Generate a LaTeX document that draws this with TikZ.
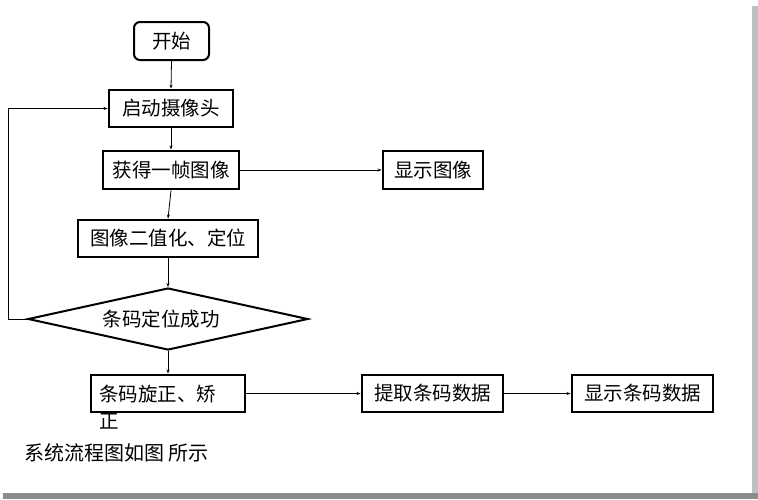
\documentclass[tikz,border=0pt]{standalone}
\usepackage{fontspec}
\setmainfont{Noto Sans CJK SC}
\usetikzlibrary{shapes.geometric,arrows.meta}
\begin{document}
\begin{tikzpicture}[x=1pt,y=-1pt,
  font=\fontsize{19.5}{27}\selectfont,
  box/.style={draw, line width=2.9pt, inner sep=0pt},
  startbox/.style={draw, line width=2pt, rounded corners=6pt, inner sep=0pt},
  decision/.style={draw, diamond, aspect=4.5, line width=2pt, inner sep=0pt, minimum width=280pt, minimum height=62pt},
  conn/.style={line width=0.8pt, -{Stealth[length=4pt,width=3pt]}}]
\useasboundingbox (0,0) rectangle (758,499);
\fill[white] (0,0) rectangle (758,499);
% page shadow
\fill[black!25] (752,6) rectangle (758,499);
\fill[black!45] (3,493) rectangle (758,499);
% nodes
\node[startbox, minimum width=75pt, minimum height=38pt] (start) at (171.5,41) {开始};
\node[box, minimum width=124pt, minimum height=37pt] (cam) at (171,108.5) {启动摄像头};
\node[box, minimum width=136pt, minimum height=38pt] (grab) at (171,170) {获得一帧图像};
\node[box, minimum width=100pt, minimum height=38pt] (show) at (433,170) {显示图像};
\node[box, minimum width=180pt, minimum height=37pt] (bin) at (168,238.5) {图像二值化、定位};
\node[decision] (dec) at (168,319) {\hspace*{-14pt}条码定位成功};
\node[box, minimum width=154pt, minimum height=37pt] (corr) at (168,393.5) {};
\node[anchor=north west, align=left, inner sep=0pt] (corrtxt) at (99,384.5) {条码旋正、矫\\正};
\node[box, minimum width=141pt, minimum height=37pt] (extract) at (432.5,393.5) {提取条码数据};
\node[box, minimum width=141pt, minimum height=37pt] (showdata) at (642.5,393.5) {显示条码数据};
\node[anchor=west, inner sep=0pt, font=\fontsize{20}{24}\selectfont] (caption) at (24,453) {系统流程图如图 所示};
% connectors
\draw[conn] (start.south) -- (cam.north);
\draw[conn] (cam.south) -- (grab.north);
\draw[conn] (grab.south) -- (bin.north);
\draw[conn] (grab.east) -- (show.west);
\draw[conn] (bin.south) -- (dec.north);
\draw[conn] (dec.south) -- (corr.north);
\draw[conn] (dec.west) -- ++(-19,0) |- (cam.west);
\draw[conn] (corr.east) -- (extract.west);
\draw[conn] (extract.east) -- (showdata.west);
\end{tikzpicture}
\end{document}
